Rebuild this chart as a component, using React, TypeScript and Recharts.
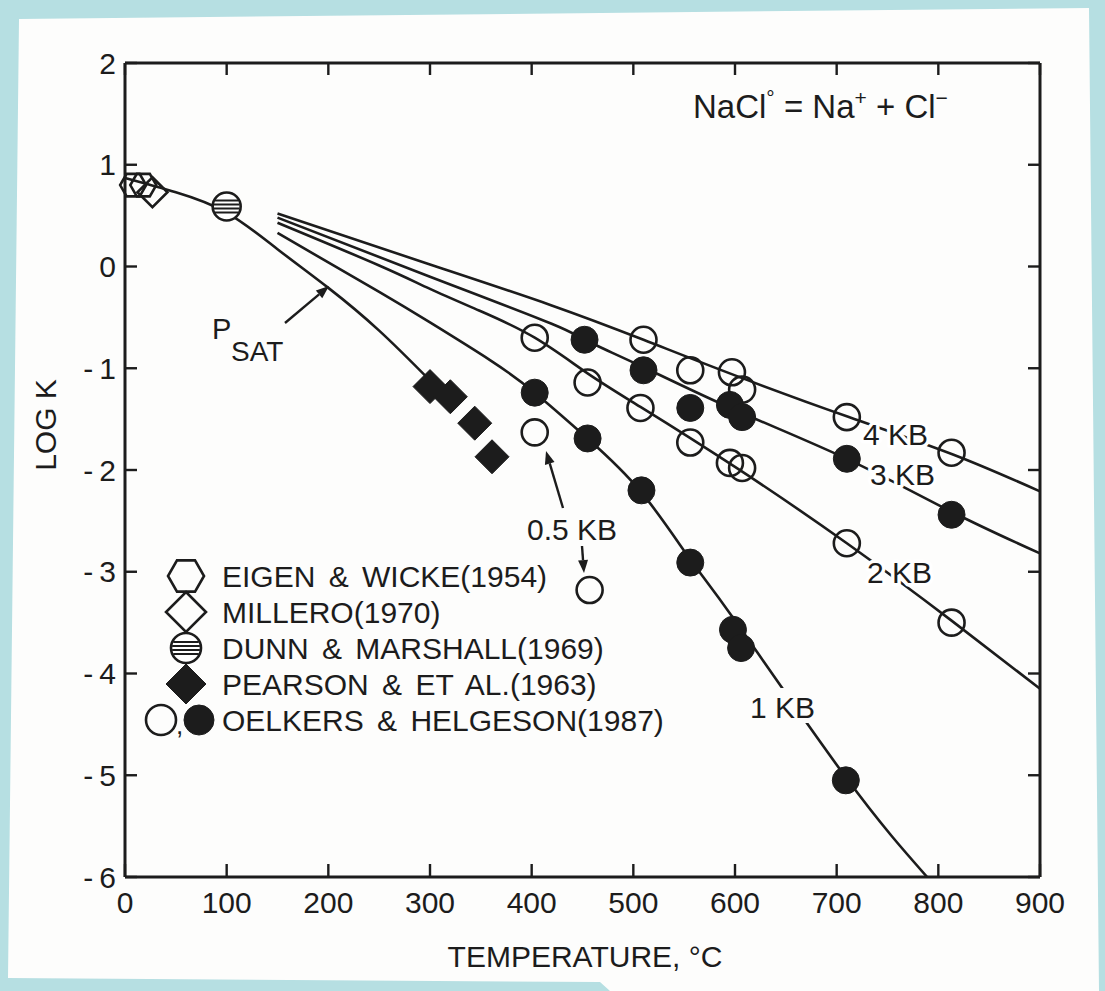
import React from 'react';
import { ComposedChart, Line, Scatter, XAxis, YAxis } from 'recharts';

// ---- data (T in °C, k = log K) ----
const xTicks = [0, 100, 200, 300, 400, 500, 600, 700, 800, 900];
const yTicks = [-6, -5, -4, -3, -2, -1, 0, 1, 2];

const psatCurve = [
  { t: 0, k: 0.87 }, { t: 50, k: 0.73 }, { t: 100, k: 0.53 }, { t: 150, k: 0.17 },
  { t: 200, k: -0.21 }, { t: 250, k: -0.63 }, { t: 300, k: -1.12 },
];
const kb4Curve = [
  { t: 150, k: 0.52 }, { t: 300, k: 0.02 }, { t: 419, k: -0.38 }, { t: 510, k: -0.72 },
  { t: 600, k: -1.07 }, { t: 712, k: -1.48 }, { t: 815, k: -1.85 }, { t: 900, k: -2.21 },
];
const kb3Curve = [
  { t: 150, k: 0.48 }, { t: 300, k: -0.1 }, { t: 419, k: -0.56 }, { t: 452, k: -0.72 },
  { t: 510, k: -0.99 }, { t: 600, k: -1.41 }, { t: 712, k: -1.9 }, { t: 815, k: -2.42 },
  { t: 900, k: -2.82 },
];
const kb2Curve = [
  { t: 150, k: 0.43 }, { t: 250, k: 0.01 }, { t: 300, k: -0.22 }, { t: 350, k: -0.44 },
  { t: 403, k: -0.7 }, { t: 455, k: -1.05 }, { t: 507, k: -1.38 }, { t: 600, k: -1.97 },
  { t: 710, k: -2.72 }, { t: 813, k: -3.48 }, { t: 900, k: -4.15 },
];
const kb1Curve = [
  { t: 150, k: 0.33 }, { t: 250, k: -0.25 }, { t: 300, k: -0.55 }, { t: 359, k: -0.92 },
  { t: 403, k: -1.24 }, { t: 455, k: -1.69 }, { t: 508, k: -2.22 }, { t: 556, k: -2.88 },
  { t: 600, k: -3.48 }, { t: 709, k: -5.02 }, { t: 789, k: -6.0 },
];

const eigenWicke = [{ t: 8, k: 0.8 }, { t: 18, k: 0.8 }];
const millero = [{ t: 27, k: 0.73 }];
const dunnMarshall = [{ t: 100, k: 0.59 }];
const pearson = [{ t: 300, k: -1.18 }, { t: 320, k: -1.28 }, { t: 344, k: -1.54 }, { t: 361, k: -1.87 }];
const oelkersOpen4 = [
  { t: 510, k: -0.72 }, { t: 556, k: -1.02 }, { t: 597, k: -1.04 }, { t: 607, k: -1.21 },
  { t: 710, k: -1.48 }, { t: 813, k: -1.83 },
];
const oelkersFilled3 = [
  { t: 452, k: -0.72 }, { t: 510, k: -1.02 }, { t: 556, k: -1.39 }, { t: 595, k: -1.36 },
  { t: 607, k: -1.48 }, { t: 710, k: -1.89 }, { t: 813, k: -2.44 },
];
const oelkersOpen2 = [
  { t: 403, k: -0.7 }, { t: 455, k: -1.14 }, { t: 507, k: -1.39 }, { t: 556, k: -1.73 },
  { t: 595, k: -1.93 }, { t: 607, k: -1.98 }, { t: 710, k: -2.72 }, { t: 813, k: -3.5 },
];
const oelkersFilled1 = [
  { t: 403, k: -1.24 }, { t: 455, k: -1.69 }, { t: 508, k: -2.2 }, { t: 556, k: -2.91 },
  { t: 598, k: -3.57 }, { t: 606, k: -3.75 }, { t: 709, k: -5.05 },
];
const oelkersOpen05 = [{ t: 403, k: -1.63 }, { t: 457, k: -3.18 }];

const legendLabels = [
  'EIGEN & WICKE(1954)',
  'MILLERO(1970)',
  'DUNN & MARSHALL(1969)',
  'PEARSON & ET AL.(1963)',
  'OELKERS & HELGESON(1987)',
];

// ---- look ----
const W = 1105;
const H = 991;
const INK = '#1c1c1c';
const PAPER = '#fdfdfc';
const BLUE = '#b6dfe2';
const FONT = '"Liberation Sans", Arial, sans-serif';
const R = 13;

const hexPoints = (cx: number, cy: number, r: number) =>
  [0, 1, 2, 3, 4, 5]
    .map((i) => `${cx + r * Math.cos((Math.PI / 3) * i)},${cy + r * Math.sin((Math.PI / 3) * i)}`)
    .join(' ');

const diamondPoints = (cx: number, cy: number, r: number) =>
  `${cx},${cy - r} ${cx + r},${cy} ${cx},${cy + r} ${cx - r},${cy}`;

const OpenCircle = ({ cx, cy, r = R }: any) =>
  cx == null ? null : <circle cx={cx} cy={cy} r={r} fill="none" stroke={INK} strokeWidth={2.6} />;

const FilledCircle = ({ cx, cy, r = R + 0.5 }: any) =>
  cx == null ? null : <circle cx={cx} cy={cy} r={r} fill={INK} stroke={INK} strokeWidth={1} />;

const Hexagon = ({ cx, cy, r = 13 }: any) =>
  cx == null ? null : <polygon points={hexPoints(cx, cy, r)} fill="none" stroke={INK} strokeWidth={2.6} />;

const OpenDiamond = ({ cx, cy, r = 15 }: any) =>
  cx == null ? null : <polygon points={diamondPoints(cx, cy, r)} fill="none" stroke={INK} strokeWidth={2.6} />;

const FilledDiamond = ({ cx, cy, r = 17 }: any) =>
  cx == null ? null : <polygon points={diamondPoints(cx, cy, r)} fill={INK} stroke={INK} strokeWidth={1} />;

const HatchedCircle = ({ cx, cy, r = 14 }: any) => {
  if (cx == null) return null;
  const offs = [-6, -2, 2, 6];
  return (
    <g>
      <circle cx={cx} cy={cy} r={r} fill="#fff" stroke={INK} strokeWidth={2.6} />
      {offs.map((d) => {
        const h = Math.sqrt(r * r - d * d) - 1;
        return <line key={d} x1={cx - h} x2={cx + h} y1={cy + d} y2={cy + d} stroke={INK} strokeWidth={2} />;
      })}
    </g>
  );
};

const Arrow = ({ x1, y1, x2, y2 }: { x1: number; y1: number; x2: number; y2: number }) => {
  const a = Math.atan2(y2 - y1, x2 - x1);
  const L = 13;
  const w = 5;
  const bx = x2 - L * Math.cos(a);
  const by = y2 - L * Math.sin(a);
  const head = `${x2},${y2} ${bx + w * Math.sin(a)},${by - w * Math.cos(a)} ${bx - w * Math.sin(a)},${by + w * Math.cos(a)}`;
  return (
    <g>
      <line x1={x1} y1={y1} x2={bx} y2={by} stroke={INK} strokeWidth={2.4} />
      <polygon points={head} fill={INK} />
    </g>
  );
};

const yTickFmt = (v: number) => (v < 0 ? `-\u2009${-v}` : `${v}`);
const noLabel = () => '';

const curveProps = {
  dataKey: 'k',
  type: 'natural' as const,
  stroke: INK,
  strokeWidth: 2.6,
  dot: false,
  activeDot: false,
  isAnimationActive: false,
};

function Annotations() {
  const halo = { stroke: '#fff', strokeWidth: 7, paintOrder: 'stroke' as const, strokeLinejoin: 'round' as const };
  const rows = [576, 612, 648, 684, 720];
  return (
    <svg
      width={W}
      height={H}
      style={{ position: 'absolute', left: 0, top: 0, pointerEvents: 'none', fontFamily: FONT }}
    >
      {/* title */}
      <text x={693} y={118} fontSize={33} fill={INK}>
        NaCl<tspan dy={-13} fontSize={21}>°</tspan>
        <tspan dy={13}> = Na</tspan>
        <tspan dy={-13} fontSize={21}>+</tspan>
        <tspan dy={13}> + Cl</tspan>
        <tspan dy={-13} fontSize={21}>−</tspan>
      </text>

      {/* axis titles */}
      <text x={45} y={425} fontSize={30} fill={INK} textAnchor="middle" dominantBaseline="central" transform="rotate(-90 45 425)">
        LOG K
      </text>
      <text x={585} y={967} fontSize={30} fill={INK} textAnchor="middle">
        TEMPERATURE, °C
      </text>

      {/* P SAT */}
      <text x={212} y={339} fontSize={29} fill={INK}>P</text>
      <text x={231} y={361} fontSize={28} fill={INK}>SAT</text>
      <Arrow x1={285} y1={323} x2={329} y2={286} />

      {/* pressure labels */}
      <text x={527} y={540} fontSize={30} fill={INK}>0.5 KB</text>
      <Arrow x1={563} y1={508} x2={546} y2={451} />
      <Arrow x1={582} y1={546} x2={584} y2={573} />
      <text x={863} y={445} fontSize={30} fill={INK} {...halo}>4 KB</text>
      <text x={870} y={485} fontSize={30} fill={INK} {...halo}>3 KB</text>
      <text x={867} y={583} fontSize={30} fill={INK} {...halo}>2 KB</text>
      <rect x={746} y={688} width={72} height={35} fill={PAPER} />
      <text x={750} y={718} fontSize={30} fill={INK}>1  KB</text>

      {/* legend */}
      <Hexagon cx={186} cy={rows[0]} r={18} />
      <OpenDiamond cx={186} cy={rows[1]} r={20} />
      <HatchedCircle cx={186} cy={rows[2]} r={15} />
      <FilledDiamond cx={186} cy={rows[3]} r={20} />
      <OpenCircle cx={161} cy={rows[4]} r={15} />
      <text x={176} y={rows[4] + 14} fontSize={26} fill={INK}>,</text>
      <FilledCircle cx={199} cy={rows[4]} r={15} />
      {legendLabels.map((s, i) => (
        <text key={s} x={222} y={rows[i] + 11} fontSize={30} fill={INK} wordSpacing={5}>
          {s}
        </text>
      ))}
    </svg>
  );
}

export default function App() {
  return (
    <div style={{ position: 'absolute', left: 0, top: 0, width: W, height: H, background: BLUE, overflow: 'hidden' }}>
      <div
        style={{
          position: 'absolute',
          left: 0,
          top: 0,
          width: W,
          height: H,
          background: PAPER,
          clipPath: 'polygon(19px 19px, 1089px 8px, 1099px 991px, 610px 991px, 600px 982px, 8px 978px)',
        }}
      />
      <div style={{ position: 'absolute', left: 0, top: 0 }}>
        <ComposedChart
          width={W}
          height={H}
          margin={{ top: 63, right: 65, bottom: 74, left: 65 }}
          style={{ fontFamily: FONT }}
        >
          <XAxis
            dataKey="t"
            type="number"
            domain={[0, 900]}
            ticks={xTicks}
            interval={0}
            height={40}
            axisLine={{ stroke: INK, strokeWidth: 3 }}
            tickLine={{ stroke: INK, strokeWidth: 2.4 }}
            tickSize={-13}
            tickMargin={28}
            tick={{ fontSize: 30, fill: INK, fontFamily: FONT }}
          />
          <XAxis
            xAxisId="top"
            dataKey="t"
            orientation="top"
            type="number"
            domain={[0, 900]}
            ticks={xTicks}
            interval={0}
            height={20}
            mirror
            axisLine={{ stroke: INK, strokeWidth: 3 }}
            tickLine={{ stroke: INK, strokeWidth: 2.4 }}
            tickSize={12}
            tickFormatter={noLabel}
          />
          <YAxis
            dataKey="k"
            type="number"
            domain={[-6, 2]}
            ticks={yTicks}
            interval={0}
            width={60}
            allowDataOverflow
            axisLine={{ stroke: INK, strokeWidth: 3 }}
            tickLine={{ stroke: INK, strokeWidth: 2.4 }}
            tickSize={-12}
            tickMargin={21}
            tickFormatter={yTickFmt}
            tick={{ fontSize: 30, fill: INK, fontFamily: FONT }}
          />
          <YAxis
            yAxisId="right"
            dataKey="k"
            orientation="right"
            type="number"
            domain={[-6, 2]}
            ticks={yTicks}
            interval={0}
            width={20}
            mirror
            allowDataOverflow
            axisLine={{ stroke: INK, strokeWidth: 3 }}
            tickLine={{ stroke: INK, strokeWidth: 2.4 }}
            tickSize={12}
            tickFormatter={noLabel}
          />

          <Line data={psatCurve} {...curveProps} />
          <Line data={kb4Curve} xAxisId="top" yAxisId="right" {...curveProps} />
          <Line data={kb3Curve} {...curveProps} />
          <Line data={kb2Curve} {...curveProps} />
          <Line data={kb1Curve} {...curveProps} />

          <Scatter data={eigenWicke} shape={(p: any) => <Hexagon {...p} r={13} />} isAnimationActive={false} />
          <Scatter data={millero} shape={(p: any) => <OpenDiamond {...p} r={15} />} isAnimationActive={false} />
          <Scatter data={dunnMarshall} shape={(p: any) => <HatchedCircle {...p} r={14} />} isAnimationActive={false} />
          <Scatter data={pearson} shape={(p: any) => <FilledDiamond {...p} r={17} />} isAnimationActive={false} />
          <Scatter data={oelkersOpen4} shape={(p: any) => <OpenCircle {...p} r={R} />} isAnimationActive={false} />
          <Scatter data={oelkersFilled3} shape={(p: any) => <FilledCircle {...p} r={R + 0.5} />} isAnimationActive={false} />
          <Scatter data={oelkersOpen2} shape={(p: any) => <OpenCircle {...p} r={R} />} isAnimationActive={false} />
          <Scatter data={oelkersFilled1} shape={(p: any) => <FilledCircle {...p} r={R + 0.5} />} isAnimationActive={false} />
          <Scatter data={oelkersOpen05} shape={(p: any) => <OpenCircle {...p} r={R} />} isAnimationActive={false} />
        </ComposedChart>
      </div>
      <Annotations />
    </div>
  );
}
